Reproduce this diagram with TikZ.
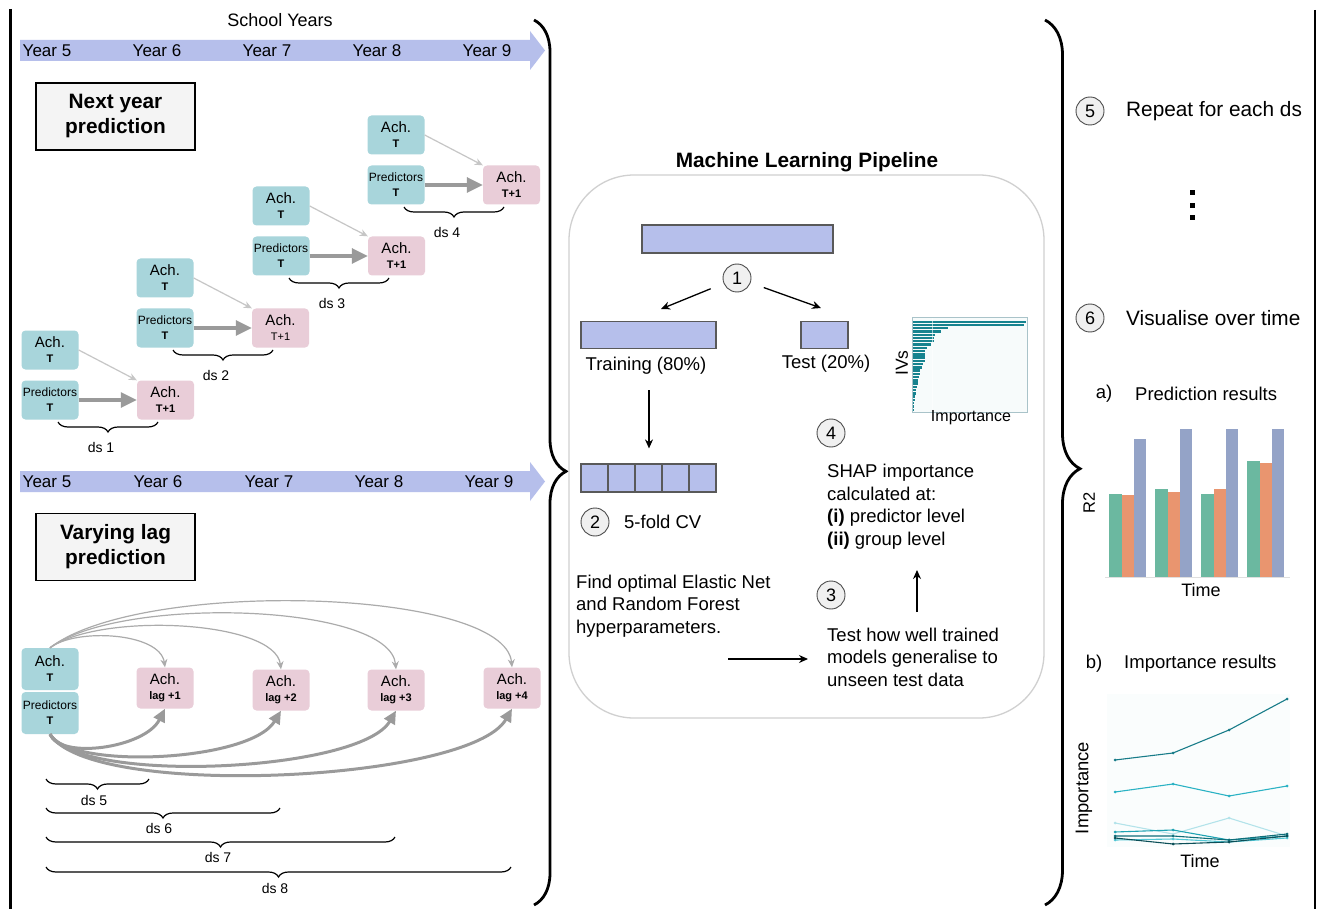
\documentclass[tikz,border=0pt]{standalone}
\usepackage{fontspec}
\setmainfont{Liberation Sans}
\usetikzlibrary{arrows.meta,decorations.pathreplacing,calc}
\definecolor{lav}{HTML}{B6BFEB}
\definecolor{tealbox}{HTML}{A8D5DB}
\definecolor{pinkbox}{HTML}{E9CDD8}
\definecolor{thinarr}{HTML}{C6C6C6}
\definecolor{lagthin}{HTML}{ABABAB}
\definecolor{thickarr}{HTML}{9A9A9A}
\definecolor{shapteal}{HTML}{17838F}
\definecolor{bgreen}{HTML}{6BB8A0}
\definecolor{borange}{HTML}{E9956F}
\definecolor{bblue}{HTML}{94A3C7}
\definecolor{pipegray}{HTML}{D0D0D0}
\definecolor{chartbg}{HTML}{F7FBFB}
\definecolor{linebg}{HTML}{FAFDFD}
\definecolor{chartframe}{HTML}{A9C3C9}
\definecolor{lA}{HTML}{187C89}
\definecolor{lB}{HTML}{2AB2C4}
\definecolor{lC}{HTML}{B3E3EA}
\definecolor{lD}{HTML}{1FA3B3}
\definecolor{lE}{HTML}{0F6E79}
\definecolor{lF}{HTML}{52C6D4}
\definecolor{lG}{HTML}{0B4F58}
\newcommand\fYear{\fontsize{17}{20}\selectfont}
\newcommand\fMid{\fontsize{18.5}{22.6}\selectfont}
\newcommand\fBig{\fontsize{20.8}{24}\selectfont}
\newcommand\fAch{\fontsize{15}{15}\selectfont}
\newcommand\fPred{\fontsize{12}{12}\selectfont}
\newcommand\fTT{\fontsize{11}{11}\selectfont}
\newcommand\fDs{\fontsize{14}{15}\selectfont}
\newcommand\impline[5]{%
  \draw[#1,line width=1.1pt] #2 -- #3 -- #4 -- #5;
  \foreach \q in {#2,#3,#4,#5} \fill[#1] \q circle (1.5pt);}
\tikzset{
  tealnode/.style={rounded corners=4pt, fill=tealbox, minimum width=57pt, minimum height=39pt, inner sep=0pt, align=center, font=\fontsize{10}{15}\selectfont},
  pinknode/.style={tealnode, fill=pinkbox},
  titlebox/.style={draw=black, line width=1.3pt, fill=gray!9, minimum width=159pt, minimum height=67pt, align=center, font=\bfseries\fontsize{20.8}{25}\selectfont},
  numc/.style={circle, draw=black!70, fill=gray!12, line width=0.9pt, minimum size=28pt, inner sep=0pt, font=\fontsize{18}{18}\selectfont},
  lavbar/.style={draw=black!65, line width=1.2pt, fill=lav, inner sep=0pt},
  bigbrace/.style={decorate, decoration={brace, amplitude=#1}, line width=2.8pt},
  smallbrace/.style={decorate, decoration={brace, amplitude=10pt, mirror}, line width=1.2pt},
  thinarrow/.style={draw=thinarr, line width=1.2pt, -{Stealth[length=8pt,width=7pt]}},
  lagthinarrow/.style={draw=lagthin, line width=1.2pt, -{Stealth[length=8pt,width=7pt]}},
  thickarrow/.style={draw=thickarr, line width=3.2pt, -{Triangle[length=16pt,width=15pt]}},
  lagthickarrow/.style={draw=thickarr, line width=3pt, -{Triangle[length=13pt,width=12pt]}},
  blackarrow/.style={line width=1.3pt, -{Stealth[length=9pt,width=8pt]}},
  txt/.style={inner sep=0pt}
}
\begin{document}
\begin{tikzpicture}[x=1pt,y=-1pt]
\useasboundingbox (0,0) rectangle (1317,909);
\fill[white] (0,0) rectangle (1317,909);

% borders and braces
\draw[line width=3pt] (10,9) -- (10,909);
\draw[line width=2pt] (1315,10) -- (1315,909);
\draw[bigbrace=32pt, decoration={aspect=0.51}] (534,20) -- (534,905);
\draw[bigbrace=35pt, decoration={aspect=0.507}] (1045,20) -- (1045,905);

% school years band
\node[txt, font=\fontsize{18}{20}\selectfont] (school) at (280,20) {School Years};
\fill[lav] (20,40) -- (530,40) -- (530,31) -- (545,50.5) -- (530,70) -- (530,61) -- (20,61) -- cycle;
\foreach \j/\x in {5/47,6/157,7/267,8/377,9/487}
  \node[txt, font=\fYear] (ya\j) at (\x,50.5) {Year \j};
\fill[lav] (20,471) -- (530,471) -- (530,462) -- (545,481.5) -- (530,501) -- (530,492) -- (20,492) -- cycle;
\foreach \j/\x in {5/47,6/158,7/269,8/379,9/489}
  \node[txt, font=\fYear] (yb\j) at (\x,481.5) {Year \j};

\node[titlebox] (nextbox) at (115.5,116.5) {Next year\\prediction};
\node[titlebox] (lagbox) at (115.5,547) {Varying lag\\prediction};

% next year prediction stairs
\foreach \i/\x/\y/\tw in {1/50/400/\bfseries,2/165/328/\mdseries,3/281/256/\bfseries,4/396/185/\bfseries}{
  \node[tealnode] (p\i) at (\x,\y) {{\fPred Predictors}\\{\fTT\bfseries T}};
  \node[tealnode] (a\i) at (\x,\y-50) {{\fAch Ach.}\\{\fTT\bfseries T}};
  \node[pinknode] (n\i) at (\x+115.5,\y) {{\fAch Ach.}\\{\fTT\tw T+1}};
  \draw[thinarrow] (a\i.east) -- (n\i.north west);
  \draw[thickarrow] (p\i.east) -- (n\i.west);
  \draw[smallbrace] (\x+8,\y+22) -- (\x+108,\y+22);
  \node[txt, font=\fDs] (ds\i) at (\x+51,\y+47) {ds \i};
}

% varying lag
\node[tealnode, minimum height=42pt] (achL) at (50,669) {{\fAch Ach.}\\{\fTT\bfseries T}};
\node[tealnode, minimum height=42pt] (predL) at (50,713) {{\fPred Predictors}\\{\fTT\bfseries T}};
\foreach \k/\x/\y in {1/165/688,2/281/690,3/396/690,4/512/688}
  \node[pinknode, minimum height=41pt] (L\k) at (\x,\y) {{\fAch Ach.}\\{\fTT\bfseries lag +\k}};
\draw[lagthinarrow] (achL.north) .. controls (75,628) and (160,632) .. (L1.north);
\draw[lagthinarrow] (achL.north) .. controls (100,612) and (275,620) .. (L2.north);
\draw[lagthinarrow] (achL.north) .. controls (120,595) and (390,603) .. (L3.north);
\draw[lagthinarrow] (achL.north) .. controls (140,578) and (505,588) .. (L4.north);
\draw[lagthickarrow] (predL.south) .. controls (60,760) and (145,748) .. (L1.south);
\draw[lagthickarrow] (predL.south) .. controls (70,770) and (250,762) .. (L2.south);
\draw[lagthickarrow] (predL.south) .. controls (80,785) and (360,772) .. (L3.south);
\draw[lagthickarrow] (predL.south) .. controls (90,800) and (470,782) .. (L4.south);
\draw[smallbrace] (46,779) -- (149,779);
\node[txt, font=\fDs] (ds5) at (94,800) {ds 5};
\draw[smallbrace] (46,808) -- (280,808);
\node[txt, font=\fDs] (ds6) at (159,828) {ds 6};
\draw[smallbrace] (46,837) -- (395,837);
\node[txt, font=\fDs] (ds7) at (218,857) {ds 7};
\draw[smallbrace] (46,867) -- (511,867);
\node[txt, font=\fDs] (ds8) at (275,888) {ds 8};

% machine learning pipeline
\node[txt, font=\bfseries\fBig] (mltitle) at (807,162) {Machine Learning Pipeline};
\draw[pipegray, line width=1.3pt, rounded corners=65pt] (569,175) rectangle (1044,718);
\node[lavbar, minimum width=191pt, minimum height=28pt] (topbar) at (737.5,239) {};
\node[numc] (c1) at (737,278) {1};
\node[lavbar, minimum width=135pt, minimum height=27pt] (trainbar) at (648.5,335) {};
\node[lavbar, minimum width=47pt, minimum height=27pt] (testbar) at (824.5,335) {};
\coordinate (arrL) at (661,309);
\coordinate (arrR) at (821,308);
\draw[blackarrow, shorten <=14pt] (c1) -- (arrL);
\draw[blackarrow, shorten <=14pt] (c1) -- (arrR);
\node[txt, font=\fMid] (trainlab) at (646,366) {Training (80\%)};
\node[txt, font=\fMid] (testlab) at (826,364) {Test (20\%)};
\foreach \f in {1,...,5}
  \node[lavbar, minimum width=27pt, minimum height=28pt] (f\f) at (594.5+27*\f-27,478) {};
\coordinate (dA) at (649,390);
\draw[blackarrow, shorten >=15pt] (dA) -- (dA |- f3.north);
\node[numc] (c2) at (595,522) {2};
\node[txt, font=\fMid, anchor=west] (cvlab) at (624,522) {5-fold CV};
\node[txt, font=\fMid, anchor=north west, align=left] (findtxt) at (576,574.5) {Find optimal Elastic Net\\and Random Forest\\hyperparameters.};
\node[numc] (c4) at (831,433) {4};
\node[txt, font=\fMid, anchor=north west, align=left] (shaptxt) at (827,464) {SHAP importance\\calculated at:\\\textbf{(i)} predictor level\\\textbf{(ii)} group level};
\node[numc] (c3) at (831,595) {3};
\node[txt, font=\fMid, anchor=north west, align=left] (testtxt) at (827,627.5) {Test how well trained\\models generalise to\\unseen test data};
\coordinate (upA) at (917,612);
\coordinate (upB) at (917,570);
\draw[blackarrow] (upA) -- (upB);
\coordinate (rtA) at (728,659);
\coordinate (rtB) at (808,659);
\draw[blackarrow] (rtA) -- (rtB);

% importance chart
\draw[chartframe, fill=chartbg, line width=0.8pt] (912,317) rectangle (1027,412);
\foreach \e [count=\k from 0] in {1026,1024,948,941,935,934,934,931,927,925,925,925,925,923,922,920,920,919,918,918,917,916,916,915,915,914,914,914}
  \fill[shapteal] (913,320.5+\k*3.26) rectangle (\e,322.9+\k*3.26);
\draw[white, opacity=0.6, line width=0.6pt] (932,318) -- (932,411);
\node[txt, rotate=90, font=\fontsize{17.5}{18}\selectfont] (ivs) at (902,363) {IVs};
\node[txt, font=\fontsize{16}{18}\selectfont] (implab) at (971,418) {Importance};

% right panel
\node[numc] (c5) at (1090,111) {5};
\node[txt, font=\fBig, anchor=west] (rep) at (1126,111) {Repeat for each ds};
\foreach \yy in {193,205.5,218}
  \fill (1189.5,\yy-2.5) rectangle (1194.5,\yy+2.5);
\node[numc] (c6) at (1090,318) {6};
\node[txt, font=\fBig, anchor=west] (vis) at (1126,318) {Visualise over time};

\node[txt, font=\fMid] (alab) at (1104,394) {a)};
\node[txt, font=\fMid, anchor=west] (predres) at (1135,394) {Prediction results};
\draw[gray!25, line width=0.8pt] (1105,577.5) -- (1290,577.5);
\foreach \x/\g/\o/\b in {1109/494/495/439,1155/489/492/429,1201/494/489/429,1247/461/463/429}{
  \fill[bgreen] (\x,\g) rectangle (\x+12.5,577);
  \fill[borange] (\x+12.5,\o) rectangle (\x+25,577);
  \fill[bblue] (\x+25,\b) rectangle (\x+37,577);
}
\node[txt, rotate=90, font=\fontsize{16.5}{18}\selectfont] (r2) at (1089,503) {R2};
\node[txt, font=\fontsize{18}{20}\selectfont] (timea) at (1201,590) {Time};

\node[txt, font=\fMid] (blab) at (1094,664) {b)};
\node[txt, font=\fMid, anchor=west] (impres) at (1124,664) {Importance results};
\fill[linebg] (1107,694) rectangle (1290,847);
\impline{lC}{(1115,823)}{(1173,834)}{(1229,818)}{(1287,836)}
\impline{lF}{(1115,840)}{(1173,839)}{(1229,842)}{(1287,838)}
\impline{lD}{(1115,832)}{(1173,830)}{(1229,840)}{(1287,836)}
\impline{lE}{(1115,836)}{(1173,836)}{(1229,840)}{(1287,834)}
\impline{lG}{(1115,838)}{(1173,844)}{(1229,842)}{(1287,836)}
\impline{lB}{(1115,792)}{(1173,784)}{(1229,796)}{(1287,786)}
\impline{lA}{(1115,760)}{(1173,753)}{(1229,730)}{(1287,699)}
\node[txt, rotate=90, font=\fontsize{18.4}{20}\selectfont] (impax) at (1084,788) {Importance};
\node[txt, font=\fontsize{18}{20}\selectfont] (timeb) at (1200,861) {Time};
\end{tikzpicture}
\end{document}
